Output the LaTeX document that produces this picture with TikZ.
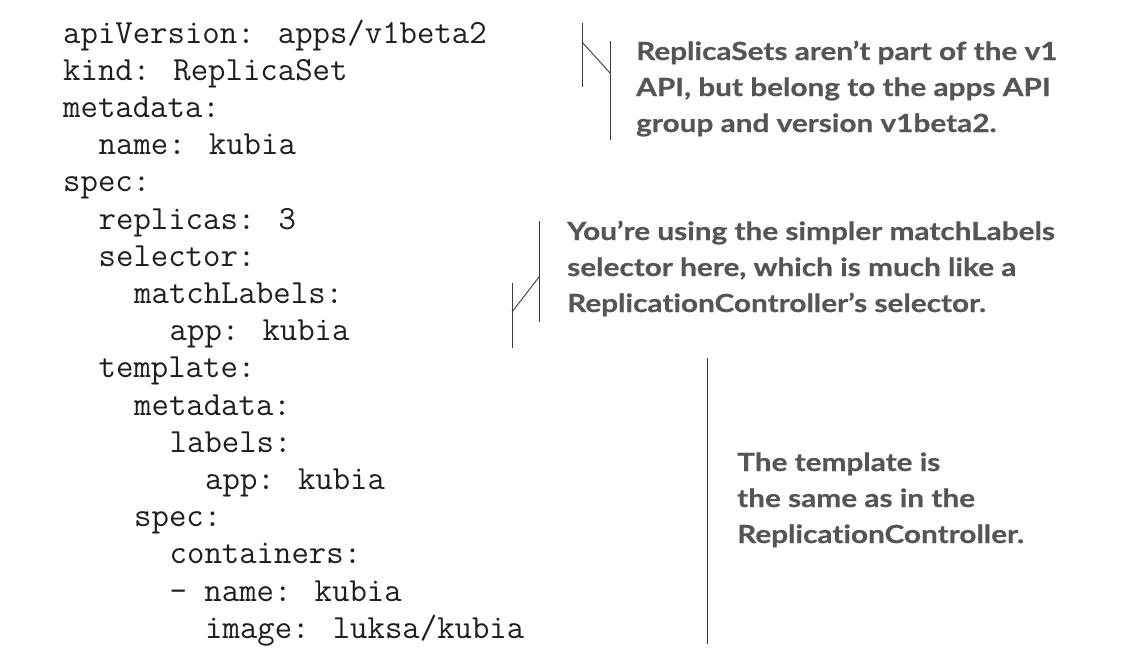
\documentclass[tikz,border=0pt]{standalone}
\usepackage{fontspec}
\newfontfamily\notefont[FakeStretch=1.19,Ligatures=NoCommon,BoldFeatures={FakeBold=0.6}]{Lato}
\definecolor{codegray}{HTML}{1E1E1E}
\definecolor{notegray}{HTML}{555555}
\definecolor{linegray}{HTML}{3A3A3A}
\begin{document}
\begin{tikzpicture}[x=1pt,y=-1pt,
    code/.style={anchor=base west,inner sep=0pt,text=codegray,font=\ttfamily\fontsize{33.8}{37}\selectfont},
    note/.style={anchor=base west,inner sep=0pt,text=notegray,align=left,font=\notefont\bfseries\fontsize{25}{36}\selectfont},
    bracket/.style={draw=linegray,line width=0.9pt}]
            \useasboundingbox (0,0) rectangle (1146,664);

            \node[code] (apiversion) at (63,43) {apiVersion: apps/v1beta2};
            \node[code] (kind) at (63,80.2) {kind: ReplicaSet};
            \node[code] (metadata) at (63,117.4) {metadata:};
            \node[code] (name) at (98.5,154.6) {name: kubia};
            \node[code] (spec) at (63,191.8) {spec:};
            \node[code] (replicas) at (98.5,229) {replicas: 3};
            \node[code] (selector) at (98.5,266.2) {selector:};
            \node[code] (matchlabels) at (134,303.4) {matchLabels:};
            \node[code] (selapp) at (169.5,340.6) {app: kubia};
            \node[code] (template) at (98.5,377.8) {template:};
            \node[code] (tplmeta) at (134,415) {metadata:};
            \node[code] (labels) at (169.5,452.2) {labels:};
            \node[code] (tplapp) at (205,489.4) {app: kubia};
            \node[code] (tplspec) at (134,526.6) {spec:};
            \node[code] (containers) at (169.5,563.8) {containers:};
            \node[code] (cname) at (169.5,601) {- name: kubia};
            \node[code] (image) at (205,638.2) {image: luksa/kubia};

            % notes are placed by the baseline of their last line
            \node[note] (noteapi) at (636,132) {ReplicaSets aren’t part of the v1\\API, but belong to the apps API\\group and version v1beta2.};
            \node[note] (notesel) at (567,312) {You’re using the simpler matchLabels\\selector here, which is much like a\\ReplicationController’s selector.};
            \node[note] (notetpl) at (737,543) {The template is\\the same as in the\\ReplicationController.};

            \coordinate (a1) at (582,23);
            \coordinate (a2) at (582,87);
            \coordinate (a3) at (582,42);
            \coordinate (a4) at (610,73);
            \coordinate (a5) at (610,41);
            \coordinate (a6) at (610,140);

            \coordinate (s1) at (512,283);
            \coordinate (s2) at (512,348);
            \coordinate (s3) at (512,312);
            \coordinate (s4) at (539,277);
            \coordinate (s5) at (539,221);
            \coordinate (s6) at (539,322);

            \coordinate (t1) at (707,358);
            \coordinate (t2) at (707,644);

            \draw[bracket] (a1) -- (a2);
            \draw[bracket] (a3) -- (a4);
            \draw[bracket] (a5) -- (a6);
            \draw[bracket] (s1) -- (s2);
            \draw[bracket] (s3) -- (s4);
            \draw[bracket] (s5) -- (s6);
            \draw[bracket] (t1) -- (t2);
        \end{tikzpicture}
\end{document}
